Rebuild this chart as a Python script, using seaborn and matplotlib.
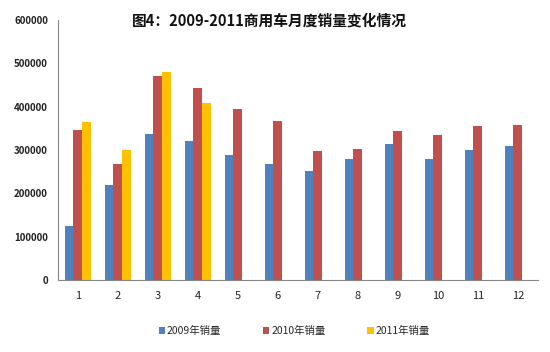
import pandas as pd
import numpy as np
import seaborn as sns
import matplotlib.pyplot as plt
from matplotlib.patches import Patch

# 数据
months = [str(m) for m in range(1, 13)]
sales_2009 = [125000, 220000, 336000, 321000, 289000, 268000, 252000, 279000, 315000, 279000, 300000, 310000]
sales_2010 = [346000, 267000, 470000, 443000, 394000, 368000, 297000, 302000, 344000, 335000, 355000, 357000]
sales_2011 = [365000, 300000, 480000, 408000, np.nan, np.nan, np.nan, np.nan, np.nan, np.nan, np.nan, np.nan]
series = ['2009年销量', '2010年销量', '2011年销量']
colors = ['#4F81BD', '#C0504D', '#FFC000']

df = pd.DataFrame({'月份': months * 3,
                   '销量': sales_2009 + sales_2010 + sales_2011,
                   '年份': [s for s in series for _ in months]})

sns.set_style('white')
plt.rcParams['font.family'] = ['Noto Sans CJK SC', 'DejaVu Sans']

fig = plt.figure(figsize=(5.5, 3.52), dpi=100)
ax = fig.add_axes([0.105, 0.2045, 0.873, 0.7385])
sns.barplot(data=df, x='月份', y='销量', hue='年份', hue_order=series,
            palette=colors, width=0.66, gap=0, saturation=1,
            edgecolor='none', ax=ax, legend=False)

ax.set_ylim(0, 600000)
ax.set_yticks(range(0, 600001, 100000))
ax.set_yticklabels([str(v) for v in range(0, 600001, 100000)],
                   fontsize=7, fontweight='bold', color='#222222')
ax.set_xlim(-0.5, 11.5)
ax.set_xticks(range(12))
ax.set_xticklabels(months, fontsize=8, color='#222222')
ax.set_xticks(np.arange(-0.5, 12, 1), minor=True)
ax.tick_params(axis='x', which='major', length=0, pad=8)
ax.tick_params(axis='x', which='minor', length=3, color='#888888', width=0.8)
ax.tick_params(axis='y', which='major', length=3, color='#888888', width=0.8, pad=4)
ax.set_xlabel('')
ax.set_ylabel('')
for side in ['top', 'right']:
    ax.spines[side].set_visible(False)
for side in ['left', 'bottom']:
    ax.spines[side].set_color('#888888')
    ax.spines[side].set_linewidth(0.8)

fig.text(0.489, 0.942, '图4：2009-2011商用车月度销量变化情况', ha='center', va='center',
         fontsize=10.6, fontweight='bold', color='#111111')

handles = [Patch(facecolor=c, edgecolor='none') for c in colors]
fig.legend(handles, series, loc='center', bbox_to_anchor=(0.535, 0.06), ncol=3,
           frameon=False, fontsize=7.5, handlelength=0.6, handleheight=0.6,
           handletextpad=0.2, columnspacing=4)

fig.savefig('out.png', dpi=100)
